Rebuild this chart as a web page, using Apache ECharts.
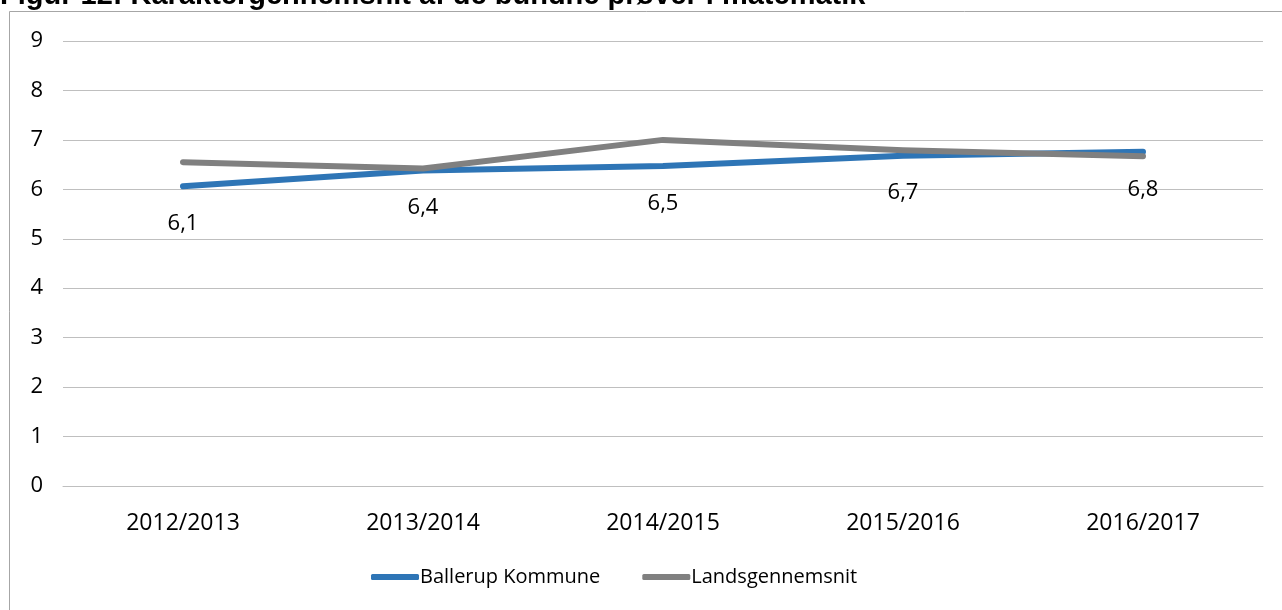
<!DOCTYPE html>
<html>
<head>
<meta charset="utf-8">
<script src="https://cdn.jsdelivr.net/npm/echarts@6/dist/echarts.min.js"></script>
<style>
  html, body { margin: 0; padding: 0; background: #fff; }
  #chart { width: 1282px; height: 610px; }
</style>
</head>
<body>
<div id="chart"></div>
<script>
// skoleår
var years = ['2012/2013', '2013/2014', '2014/2015', '2015/2016', '2016/2017'];
// karaktergennemsnit
var ballerup = [6.06, 6.38, 6.47, 6.68, 6.76];
var lands = [6.55, 6.42, 7.0, 6.79, 6.67];
var seriesNames = ['Ballerup Kommune', 'Landsgennemsnit'];
var titleText = 'Figur 12: Karaktergennemsnit af de bundne prøver i matematik';

var chart = echarts.init(document.getElementById('chart'));
var font = '"Open Sans", sans-serif';

var option = {
  animation: false,
  backgroundColor: '#fff',
  graphic: [
    {
      type: 'text',
      left: 0,
      top: -19,
      style: { text: titleText, font: 'bold 29px "Liberation Sans", Arial', fill: '#000' }
    },
    {
      type: 'rect',
      shape: { x: 9.5, y: 11.5, width: 1300, height: 700 },
      style: { fill: 'none', stroke: '#A6A6A6', lineWidth: 1 }
    }
  ],
  grid: { left: 63, right: 19, top: 41, bottom: 124 },
  legend: {
    bottom: 18,
    left: 366,
    itemWidth: 48,
    itemHeight: 6,
    itemGap: 42,
    icon: 'roundRect',
    textStyle: { fontFamily: font, fontSize: 20, color: '#000', padding: [0, 0, 0, -4] },
    data: seriesNames
  },
  xAxis: {
    type: 'category',
    data: years,
    boundaryGap: true,
    axisLine: { lineStyle: { color: '#BFBFBF' } },
    axisTick: { show: false },
    axisLabel: { fontFamily: font, fontSize: 23, color: '#000', margin: 26 }
  },
  yAxis: {
    type: 'value',
    min: 0,
    max: 9,
    interval: 1,
    axisLine: { show: false },
    axisTick: { show: false },
    splitLine: { lineStyle: { color: '#BFBFBF' } },
    axisLabel: { fontFamily: font, fontSize: 22, color: '#000', margin: 20 }
  },
  series: [
    {
      name: seriesNames[0],
      type: 'line',
      data: ballerup,
      symbol: 'circle',
      symbolSize: 1,
      lineStyle: { color: '#2E75B6', width: 6, cap: 'round', join: 'round' },
      itemStyle: { color: '#2E75B6' },
      label: {
        show: true,
        position: 'bottom',
        distance: 26,
        fontFamily: font,
        fontSize: 22,
        color: '#000',
        formatter: function (p) { return p.value.toFixed(1).replace('.', ','); }
      },
      z: 2
    },
    {
      name: seriesNames[1],
      type: 'line',
      data: lands,
      symbol: 'circle',
      symbolSize: 1,
      lineStyle: { color: '#808080', width: 6, cap: 'round', join: 'round' },
      itemStyle: { color: '#808080' },
      z: 3
    }
  ]
};
chart.setOption(option);
</script>
</body>
</html>
